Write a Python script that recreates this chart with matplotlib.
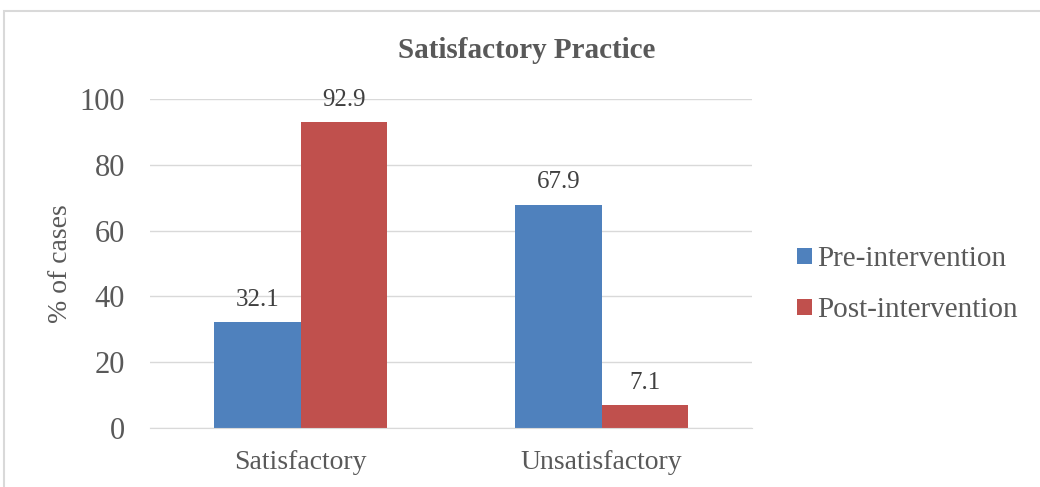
import matplotlib.pyplot as plt
import numpy as np
from matplotlib.patches import Rectangle

categories = ["Satisfactory", "Unsatisfactory"]
pre = [32.1, 67.9]
post = [92.9, 7.1]
series_names = ["Pre-intervention", "Post-intervention"]

plt.rcParams['font.family'] = ['Liberation Serif', 'DejaVu Serif']
grey = '#595959'

fig = plt.figure(figsize=(10.4, 4.87), dpi=100)
# chart border (cropped at right and bottom)
fig.patches.append(Rectangle((4/1040, -0.1), 1.1, 1 - 11/487 + 0.1, transform=fig.transFigure,
                             fill=False, edgecolor='#d9d9d9', linewidth=1.5))

ax = fig.add_axes([150/1040, 59/487, 602/1040, 329/487])
x = np.arange(len(categories))
w = 0.286
b1 = ax.bar(x - w/2, pre, w, color='#4F81BD', label=series_names[0])
b2 = ax.bar(x + w/2, post, w, color='#C0504D', label=series_names[1])

for bars in (b1, b2):
    for r in bars:
        ax.annotate(f"{r.get_height():.1f}", (r.get_x() + r.get_width()/2, r.get_height()),
                    xytext=(0, 8), textcoords='offset points', ha='center', va='bottom',
                    fontsize=18, color='#404040')

ax.set_xlim(-0.5, 1.5)
ax.set_ylim(0, 100)
ax.set_yticks(range(0, 101, 20))
ax.set_xticks(x, categories)
ax.grid(axis='y', color='#d9d9d9', linewidth=1)
ax.set_axisbelow(True)
for s in ['top', 'right', 'left']:
    ax.spines[s].set_visible(False)
ax.spines['bottom'].set_color('#d9d9d9')
ax.tick_params(axis='y', length=0, labelsize=22, labelcolor=grey, pad=18)
ax.tick_params(axis='x', length=0, labelsize=20, labelcolor=grey, pad=16)
ax.set_ylabel("% of cases", fontsize=20, color=grey, labelpad=5)

# title is centred on the whole chart area, not on the plot
fig.text(527/1040, 1 - 50/487, "Satisfactory Practice", fontsize=21, fontweight='bold',
         color=grey, ha='center', va='center')

ax.legend(loc='center left', bbox_to_anchor=(1.075, 0.435), frameon=False, fontsize=21,
          labelcolor=grey, handlelength=0.5, handleheight=0.5, handletextpad=0.2,
          labelspacing=0.85, borderpad=0, borderaxespad=0)

plt.savefig('out.png', dpi=100)
